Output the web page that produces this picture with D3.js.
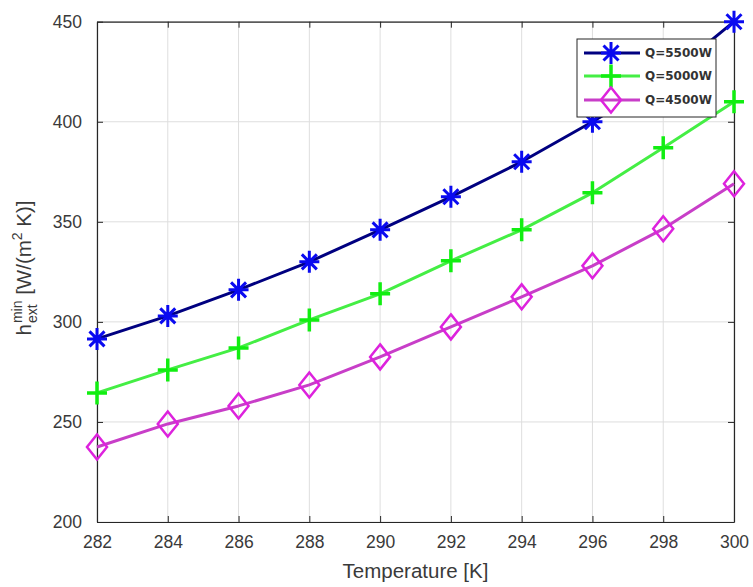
<!DOCTYPE html>
<html>
<head>
<meta charset="utf-8">
<script src="https://cdn.jsdelivr.net/npm/d3@7"></script>
<style>
  html, body { margin: 0; padding: 0; background: #fff; }
  svg { display: block; }
  text { white-space: pre; }
</style>
</head>
<body>
<svg id="chart" width="753" height="587"></svg>
<script>
// ---- data ----
const temperatures = [282, 284, 286, 288, 290, 292, 294, 296, 298, 300];
const q5500 = [291.5, 303, 316, 330, 346, 362.5, 380, 400, 421, 450];
const q5000 = [264.5, 276, 287, 301, 314, 330.5, 346, 364.5, 387, 410];
const q4500 = [237.5, 249, 258, 268.5, 282.5, 297.5, 312.5, 328, 346.5, 369];
const seriesNames = ["Q=5500W", "Q=5000W", "Q=4500W"];
const xTicks = [282, 284, 286, 288, 290, 292, 294, 296, 298, 300];
const yTicks = [200, 250, 300, 350, 400, 450];

const styles = [
  { line: "#000080", marker: "#0a0af0", shape: "star" },
  { line: "#44ee44", marker: "#11ee11", shape: "plus" },
  { line: "#c83ec8", marker: "#dd22dd", shape: "diamond" }
];
const seriesValues = [q5500, q5000, q4500];

const svg = d3.select("#chart");
const L = 97, R = 734, T = 21.7, B = 522;
const x = d3.scaleLinear().domain([282, 300]).range([L, R]);
const y = d3.scaleLinear().domain([200, 450]).range([B, T]);
const axisColor = "#262626";
const font = "'Liberation Sans', Arial, Helvetica, sans-serif";

// grid
const grid = svg.append("g");
grid.selectAll("line.gx").data(xTicks).join("line")
  .attr("x1", d => x(d)).attr("x2", d => x(d)).attr("y1", T).attr("y2", B)
  .attr("stroke", "#dedede").attr("stroke-width", 1);
grid.selectAll("line.gy").data(yTicks).join("line")
  .attr("y1", d => y(d)).attr("y2", d => y(d)).attr("x1", L).attr("x2", R)
  .attr("stroke", "#dedede").attr("stroke-width", 1);

// axes (MATLAB-like box with inward ticks)
const tl = 6;
const xAxisB = d3.axisBottom(x).tickValues(xTicks).tickSizeInner(-tl).tickSizeOuter(0).tickPadding(14).tickFormat(d3.format("d"));
const xAxisT = d3.axisTop(x).tickValues(xTicks).tickSizeInner(-tl).tickSizeOuter(0).tickFormat("");
const yAxisL = d3.axisLeft(y).tickValues(yTicks).tickSizeInner(-tl).tickSizeOuter(0).tickPadding(15).tickFormat(d3.format("d"));
const yAxisR = d3.axisRight(y).tickValues(yTicks).tickSizeInner(-tl).tickSizeOuter(0).tickFormat("");

function styleAxis(g) {
  g.selectAll("path").attr("stroke", axisColor).attr("stroke-width", 1.2);
  g.selectAll("line").attr("stroke", axisColor).attr("stroke-width", 1);
  g.selectAll("text").attr("fill", "#3a3a3a").style("font-family", font).style("font-size", "17.5px");
}
svg.append("g").attr("transform", `translate(0,${B})`).call(xAxisB).call(styleAxis);
svg.append("g").attr("transform", `translate(0,${T})`).call(xAxisT).call(styleAxis);
svg.append("g").attr("transform", `translate(${L},0)`).call(yAxisL).call(styleAxis);
svg.append("g").attr("transform", `translate(${R},0)`).call(yAxisR).call(styleAxis);

// axis labels
svg.append("text")
  .attr("x", (L + R) / 2).attr("y", 578)
  .attr("text-anchor", "middle")
  .attr("fill", "#3a3a3a")
  .style("font-family", font).style("font-size", "20.5px")
  .text("Temperature [K]");

// y label with sub/superscripts
(function () {
  const g = svg.append("g").attr("transform", "translate(31,268) rotate(-90)");
  const big = 20.5, small = 14;
  function addText(str, size, dy) {
    return g.append("text").attr("fill", "#3a3a3a")
      .style("font-family", font).style("font-size", size + "px")
      .style("white-space", "pre")
      .attr("y", dy).text(str);
  }
  const h = addText("h", big, 0);
  const sup = addText("min", small, -9);
  const sub = addText("ext", small, 6);
  const p1 = addText("[W/(m", big, 0);
  const sup2 = addText("2", small, -9);
  const p2 = addText("K)]", big, 0);
  const sp = big * 0.278;
  const wh = h.node().getComputedTextLength();
  const wss = Math.max(sup.node().getComputedTextLength(), sub.node().getComputedTextLength());
  const wp1 = p1.node().getComputedTextLength();
  const ws2 = sup2.node().getComputedTextLength();
  const wp2 = p2.node().getComputedTextLength();
  const total = wh + 1 + wss + sp + wp1 + ws2 + sp + wp2;
  let cx = -total / 2;
  h.attr("x", cx); cx += wh + 1;
  sup.attr("x", cx); sub.attr("x", cx); cx += wss + sp;
  p1.attr("x", cx); cx += wp1;
  sup2.attr("x", cx); cx += ws2 + sp;
  p2.attr("x", cx);
})();

// marker drawing
function drawMarker(g, shape, color, cx, cy) {
  if (shape === "star") {
    const r = 10, d = 7.5;
    const p = `M${cx - r},${cy}L${cx + r},${cy}M${cx},${cy - r - 1}L${cx},${cy + r + 1}` +
      `M${cx - d},${cy - d}L${cx + d},${cy + d}M${cx - d},${cy + d}L${cx + d},${cy - d}`;
    g.append("path").attr("d", p).attr("stroke", color).attr("stroke-width", 3).attr("fill", "none");
  } else if (shape === "plus") {
    const rx = 10, ry = 11.5;
    const p = `M${cx - rx},${cy}L${cx + rx},${cy}M${cx},${cy - ry}L${cx},${cy + ry}`;
    g.append("path").attr("d", p).attr("stroke", color).attr("stroke-width", 3.5).attr("fill", "none");
  } else {
    const rx = 10, ry = 12.5;
    const p = `M${cx},${cy - ry}L${cx + rx},${cy}L${cx},${cy + ry}L${cx - rx},${cy}Z`;
    g.append("path").attr("d", p).attr("stroke", color).attr("stroke-width", 2.5).attr("fill", "none");
  }
}

// series
const line = d3.line().x(d => x(d[0])).y(d => y(d[1]));
seriesValues.forEach((vals, i) => {
  const pts = temperatures.map((t, j) => [t, vals[j]]);
  const g = svg.append("g");
  g.append("path").attr("d", line(pts))
    .attr("fill", "none").attr("stroke", styles[i].line).attr("stroke-width", 3)
    .attr("stroke-linejoin", "round");
  pts.forEach(p => drawMarker(g, styles[i].shape, styles[i].marker, x(p[0]), y(p[1])));
});

// legend
const lg = svg.append("g");
lg.append("rect").attr("x", 577).attr("y", 39).attr("width", 139).attr("height", 78)
  .attr("fill", "#fff").attr("stroke", axisColor).attr("stroke-width", 1);
const rowY = [53, 76, 100];
seriesNames.forEach((name, i) => {
  lg.append("line").attr("x1", 584).attr("x2", 640).attr("y1", rowY[i]).attr("y2", rowY[i])
    .attr("stroke", styles[i].line).attr("stroke-width", 3);
  drawMarker(lg, styles[i].shape, styles[i].marker, 611, rowY[i]);
  lg.append("text").attr("x", 645).attr("y", rowY[i]).attr("dy", "0.36em")
    .attr("fill", "#333")
    .style("font-family", "'DejaVu Sans', Verdana, sans-serif")
    .style("font-size", "12px").style("font-weight", "bold")
    .text(name);
});
</script>
</body>
</html>
